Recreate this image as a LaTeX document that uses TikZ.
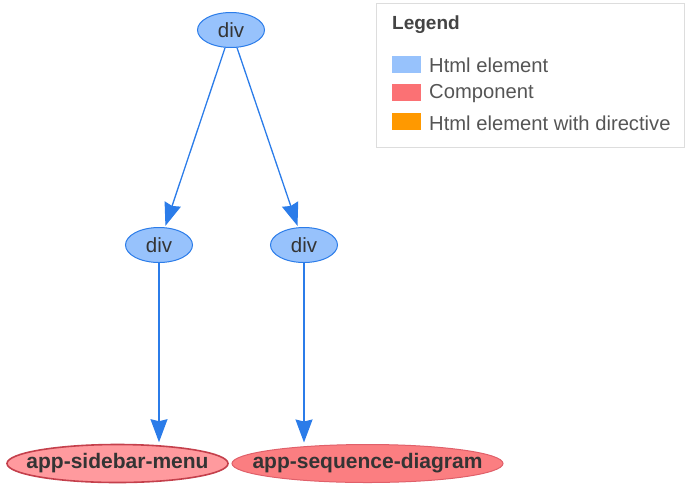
\documentclass[tikz,border=0pt]{standalone}
\usepackage{fontspec}
\setmainfont{Liberation Sans}
\usetikzlibrary{shapes.geometric,arrows.meta}
\definecolor{htmlfill}{HTML}{97C2FC}
\definecolor{htmlborder}{HTML}{2B7CE9}
\definecolor{compfill}{HTML}{FB7E81}
\definecolor{complight}{HTML}{FF9A9E}
\definecolor{compborder}{HTML}{E0606A}
\definecolor{compdark}{HTML}{C4404C}
\definecolor{dirfill}{HTML}{FF9900}
\definecolor{nodetext}{HTML}{343434}
\definecolor{legtext}{HTML}{555555}
\definecolor{legborder}{HTML}{DDDDDD}
\tikzset{
  htmlnode/.style={ellipse, draw=htmlborder, fill=htmlfill, line width=1pt, inner sep=0pt,
    minimum width=67pt, minimum height=35pt, text=nodetext, font=\fontsize{20.5}{24}\selectfont},
  compnode/.style={ellipse, draw=compborder, fill=compfill, line width=1pt, inner sep=0pt,
    minimum height=38pt, text=nodetext, font=\bfseries\fontsize{21}{24}\selectfont},
  linkarrow/.style={draw=htmlborder, line width=1.3pt, shorten >=1.5pt, -{Stealth[length=23pt,width=17pt,inset=2pt]}},
  swatch/.style={fill=#1, draw=none, minimum width=29pt, minimum height=17pt, inner sep=0pt},
  legitem/.style={anchor=west, text=legtext, font=\fontsize{20.2}{24}\selectfont, inner sep=0pt},
}
\begin{document}
\begin{tikzpicture}[x=1pt,y=-1pt]
\useasboundingbox (0,0) rectangle (690,483);
% nodes
\node[htmlnode] (top) at (231,30) {\makebox[0pt]{div}};
\node[htmlnode] (l) at (159,245) {\makebox[0pt]{div}};
\node[htmlnode] (r) at (304,245) {\makebox[0pt]{div}};
\node[compnode, fill=complight, draw=compdark, line width=1.6pt, minimum width=221pt] (sm) at (117.5,463.5) {\makebox[0pt]{app-sidebar-menu}};
\node[compnode, minimum width=271pt] (sd) at (367.5,463.5) {\makebox[0pt]{app-sequence-diagram}};
% edges
\draw[linkarrow] (top) -- (l);
\draw[linkarrow] (top) -- (r);
\draw[linkarrow] (l.south) -- (l.south |- sm.north);
\draw[linkarrow] (r.south) -- (r.south |- sd.north);
% legend
\node[draw=legborder, line width=1pt, minimum width=308pt, minimum height=144pt, inner sep=0pt] (leg) at (530,75) {};
\node[anchor=west, text=legtext!80!black, font=\bfseries\fontsize{19}{22}\selectfont, inner sep=0pt] (legt) at (392,25) {Legend};
\node[swatch=htmlfill] (s1) at (406.5,64) {};
\node[swatch=compfill!90!red] (s2) at (406.5,92) {};
\node[swatch=dirfill] (s3) at (406.5,121) {};
\node[legitem] (t1) at (429,65) {Html element};
\node[legitem] (t2) at (429,94) {Component};
\node[legitem] (t3) at (429,123) {Html element with directive};
\end{tikzpicture}
\end{document}
